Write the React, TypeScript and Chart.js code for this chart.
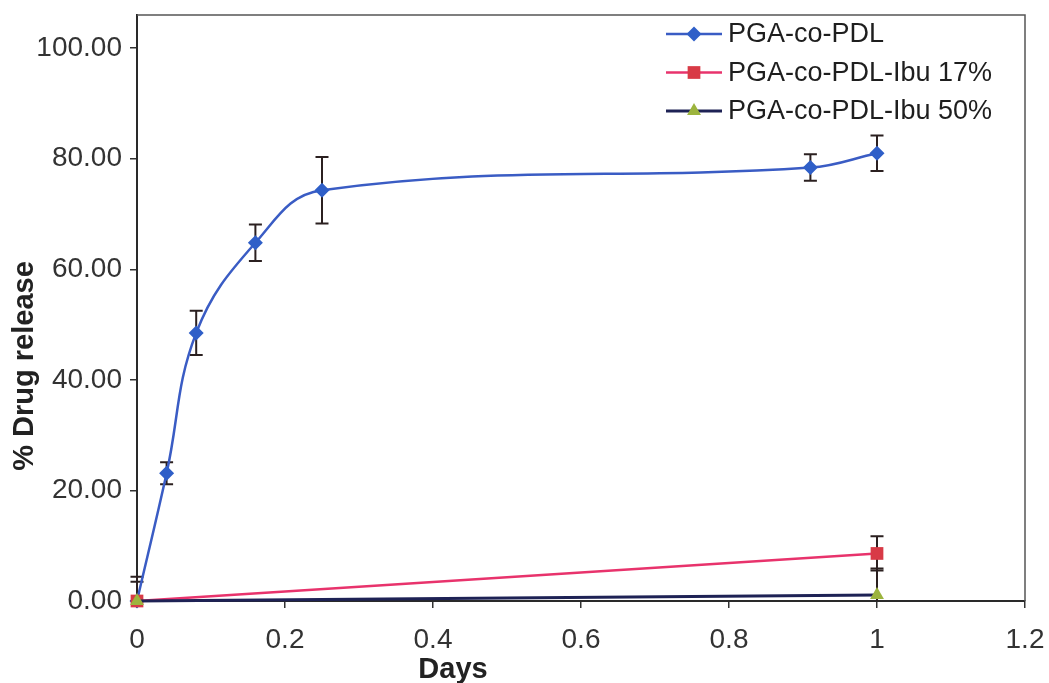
import React, { useEffect, useRef } from 'react';
import { Chart, registerables } from 'chart.js';

Chart.register(...registerables);

const seriesNames = ['PGA-co-PDL', 'PGA-co-PDL-Ibu 17%', 'PGA-co-PDL-Ibu 50%'];

const daysPDL = [0, 0.04, 0.08, 0.16, 0.25, 0.91, 1];
const releasePDL = [0, 23.1, 48.5, 64.8, 74.3, 78.4, 81.0];
const errPDL = [4.4, 2.0, 4.0, 3.3, 6.0, 2.4, 3.2];

const daysIbu = [0, 1];
const releaseIbu17 = [0, 8.6];
const errIbu17 = [3.5, 3.1];
const releaseIbu50 = [0, 1.1];
const errIbu50 = [0, 4.8];

const xTickValues = [0, 0.2, 0.4, 0.6, 0.8, 1, 1.2];
const yTickValues = [0, 20, 40, 60, 80, 100];

const xTitle = 'Days';
const yTitle = '% Drug release';

const FONT = '"Liberation Sans", Arial, sans-serif';

export default function App() {
  const ref = useRef<HTMLCanvasElement>(null);

  useEffect(() => {
    document.body.style.margin = '0';
    const canvas = ref.current!;
    const toPts = (xs: number[], ys: number[]) => xs.map((x, i) => ({ x, y: ys[i] }));
    const xsAll = [daysPDL, daysIbu, daysIbu];
    const ysAll = [releasePDL, releaseIbu17, releaseIbu50];
    const errsAll = [errPDL, errIbu17, errIbu50];

    const errorBars = {
      id: 'errorBars',
      beforeDatasetsDraw(chart: any) {
        const { ctx, chartArea, scales } = chart;
        ctx.save();
        ctx.beginPath();
        ctx.rect(chartArea.left - 20, chartArea.top, chartArea.right - chartArea.left + 40, chartArea.bottom - chartArea.top);
        ctx.clip();
        ctx.strokeStyle = '#2b2020';
        ctx.lineWidth = 2;
        for (let d = 0; d < xsAll.length; d++) {
          xsAll[d].forEach((xv, i) => {
            const e = errsAll[d][i];
            if (!e) return;
            const x = scales.x.getPixelForValue(xv);
            const y1 = scales.y.getPixelForValue(ysAll[d][i] + e);
            const y2 = scales.y.getPixelForValue(ysAll[d][i] - e);
            ctx.beginPath();
            ctx.moveTo(x, y1);
            ctx.lineTo(x, y2);
            ctx.moveTo(x - 6.5, y1);
            ctx.lineTo(x + 6.5, y1);
            ctx.moveTo(x - 6.5, y2);
            ctx.lineTo(x + 6.5, y2);
            ctx.stroke();
          });
        }
        ctx.restore();
      },
    };

    const decor = {
      id: 'decor',
      afterDraw(chart: any) {
        const { ctx, chartArea } = chart;
        ctx.save();
        ctx.strokeStyle = '#555';
        ctx.lineWidth = 1.5;
        ctx.beginPath();
        ctx.moveTo(chartArea.left, chartArea.top);
        ctx.lineTo(chartArea.right, chartArea.top);
        ctx.lineTo(chartArea.right, chartArea.bottom);
        ctx.stroke();

        ctx.fillStyle = '#222';
        ctx.font = `bold 29px ${FONT}`;
        ctx.textAlign = 'center';
        ctx.textBaseline = 'alphabetic';
        ctx.fillText(xTitle, 453, 678);
        ctx.save();
        ctx.translate(33, 366);
        ctx.rotate(-Math.PI / 2);
        ctx.fillText(yTitle, 0, 0);
        ctx.restore();

        const rows = [34, 72.5, 111];
        chart.data.datasets.forEach((ds: any, i: number) => {
          const y = rows[i];
          ctx.strokeStyle = ds.borderColor;
          ctx.lineWidth = ds.borderWidth;
          ctx.beginPath();
          ctx.moveTo(666, y);
          ctx.lineTo(722, y);
          ctx.stroke();
          const cx = 694;
          ctx.fillStyle = ds.backgroundColor;
          ctx.beginPath();
          if (ds.pointStyle === 'rectRot') {
            const r = ds.pointRadius;
            ctx.moveTo(cx, y - r);
            ctx.lineTo(cx + r, y);
            ctx.lineTo(cx, y + r);
            ctx.lineTo(cx - r, y);
            ctx.closePath();
          } else if (ds.pointStyle === 'rect') {
            const s = ds.pointRadius * Math.SQRT1_2;
            ctx.rect(cx - s, y - s, 2 * s, 2 * s);
          } else {
            const r = ds.pointRadius;
            ctx.moveTo(cx, y - r);
            ctx.lineTo(cx + r * 0.866, y + r * 0.5);
            ctx.lineTo(cx - r * 0.866, y + r * 0.5);
            ctx.closePath();
          }
          ctx.fill();
          ctx.fillStyle = '#1e1e1e';
          ctx.font = `27px ${FONT}`;
          ctx.textAlign = 'left';
          ctx.textBaseline = 'middle';
          ctx.fillText(seriesNames[i], 728, y + 1);
        });
        ctx.restore();
      },
    };

    const chart = new Chart(canvas, {
      type: 'line',
      data: {
        datasets: [
          {
            label: seriesNames[0],
            data: toPts(daysPDL, releasePDL),
            borderColor: '#3a5cc4',
            backgroundColor: '#2f5fc8',
            borderWidth: 2.5,
            pointStyle: 'rectRot',
            pointRadius: 7.5,
            pointBorderWidth: 0,
            tension: 0.4,
            clip: false,
            order: 2,
          },
          {
            label: seriesNames[1],
            data: toPts(daysIbu, releaseIbu17),
            borderColor: '#e8336c',
            backgroundColor: '#d83a46',
            borderWidth: 2.5,
            pointStyle: 'rect',
            pointRadius: 9,
            pointBorderWidth: 0,
            tension: 0,
            clip: false,
            order: 1,
          },
          {
            label: seriesNames[2],
            data: toPts(daysIbu, releaseIbu50),
            borderColor: '#1e2255',
            backgroundColor: '#9cb43e',
            borderWidth: 3,
            pointStyle: 'triangle',
            pointRadius: 8,
            pointBorderWidth: 0,
            tension: 0,
            clip: false,
            order: 0,
          },
        ] as any,
      },
      options: {
        responsive: false,
        devicePixelRatio: 1,
        animation: false,
        layout: { padding: { left: 0, right: 24, top: 15, bottom: 0 } },
        plugins: { legend: { display: false }, tooltip: { enabled: false } },
        scales: {
          x: {
            type: 'linear',
            min: 0,
            max: 1.2,
            afterBuildTicks: (s: any) => {
              s.ticks = xTickValues.map((v) => ({ value: v }));
            },
            afterFit: (s: any) => {
              s.height = 82;
              s.paddingLeft = 0;
              s.paddingRight = 0;
            },
            ticks: {
              callback: (v: any) => String(v),
              font: { family: FONT, size: 28 },
              color: '#333',
              padding: 15,
              maxRotation: 0,
              autoSkip: false,
            },
            grid: { display: true, drawOnChartArea: false, tickLength: 7, color: '#333', lineWidth: 1.5 },
            border: { display: true, color: '#2a2a2a', width: 2 },
          },
          y: {
            type: 'linear',
            min: 0,
            max: 106,
            afterBuildTicks: (s: any) => {
              s.ticks = yTickValues.map((v) => ({ value: v }));
            },
            afterFit: (s: any) => {
              s.width = 137;
              s.paddingTop = 0;
              s.paddingBottom = 0;
            },
            ticks: {
              callback: (v: any) => Number(v).toFixed(2),
              font: { family: FONT, size: 28 },
              color: '#333',
              padding: 8,
              autoSkip: false,
            },
            grid: { display: true, drawOnChartArea: false, tickLength: 7, color: '#333', lineWidth: 1.5 },
            border: { display: true, color: '#2a2a2a', width: 2 },
          },
        },
      } as any,
      plugins: [errorBars, decor],
    });
    return () => chart.destroy();
  }, []);

  return (
    <div style={{ width: 1049, height: 683 }}>
      <canvas ref={ref} width={1049} height={683} style={{ display: 'block' }} />
    </div>
  );
}
